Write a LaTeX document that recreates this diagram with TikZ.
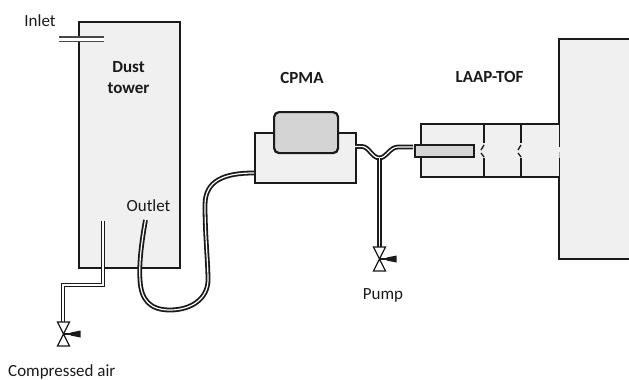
\documentclass[tikz,border=0pt]{standalone}
\usepackage{fontspec}
\setmainfont{Carlito}
\definecolor{boxfill}{HTML}{F0F0F0}
\definecolor{darkfill}{HTML}{D4D4D4}
\definecolor{ink}{HTML}{1A1A1A}
\tikzset{
  every node/.style={text=ink,font=\fontsize{17}{19}\selectfont,inner sep=0pt},
  boxstyle/.style={draw=ink,line width=2.2pt,fill=boxfill},
  pipe/.style={draw=ink,line width=1.8pt,line cap=butt,double=white,double distance=1.2pt,line join=round},
  valvestyle/.style={draw=ink,line width=1.3pt,fill=white,line join=miter},
  strong/.style={font=\fontsize{17}{19}\selectfont\bfseries},
}
\newcommand{\valve}[1]{%
  \draw[valvestyle] (#1)++(-6,-12) -- ++(12,0) -- ++(-12,24) -- ++(12,0) -- cycle;
  \draw[ink,line width=1.3pt] (#1) -- ++(8,0);
  \fill[ink] (#1)++(7,-1.5) -- ++(10,-2) -- ++(0,7) -- ++(-10,-2) -- cycle;
}
\begin{document}
\begin{tikzpicture}[x=1pt,y=-1pt]
\useasboundingbox (0,0) rectangle (629,380);
% tower
\node[boxstyle,minimum width=101pt,minimum height=246pt,anchor=north west] (tower) at (78,21) {};
% large instrument
\fill[boxfill] (559,39) rectangle (629,259);
\draw[ink,line width=2.2pt] (629,39) -- (559,39) -- (559,147);
\draw[gray!60,line width=2pt] (559,152) -- (559,158);
\draw[ink,line width=2.2pt] (559,158) -- (559,259) -- (629,259);
% LAAP
\fill[boxfill] (421,124) rectangle (559,177);
\draw[ink,line width=2.2pt] (559,124) -- (421,124) -- (421,177) -- (559,177);
\foreach \x in {484,521}{
  \draw[ink,line width=2.2pt] (\x,124) -- (\x,143);
  \draw[ink,line width=2.2pt] (\x,158) -- (\x,177);
  \draw[ink,line width=1.3pt] (\x,145) -- (\x-3,150);
  \draw[ink,line width=1.3pt] (\x-3,153) -- (\x,157);
}
% CPMA
\node[boxstyle,minimum width=101pt,minimum height=50pt,anchor=north west] (cpma) at (254,132) {};
\node[draw=ink,line width=2.2pt,fill=darkfill,rounded corners=5pt,minimum width=64pt,minimum height=41pt,anchor=north west] (rot) at (273,111) {};
% pipes
\coordinate (inA) at (59,39); \coordinate (inB) at (104,39);
\draw[draw=ink!80,line width=1.4pt,double=white,double distance=3pt] (inA) -- (inB);
\coordinate (airtop) at (103,221);
\coordinate (airv) at (63,322);
\draw[pipe,line join=miter] (airtop) -- (103,285) -- (63,285) -- (63,322);
\coordinate (outtop) at (145.5,220);
\coordinate (cpmaL) at (254,173);
\draw[pipe] (outtop) .. controls (141,245) and (139,265) .. (140,280)
  .. controls (141,300) and (150,310) .. (170,310)
  .. controls (192,310) and (208,298) .. (208,280)
  .. controls (208,262) and (205,235) .. (205,205)
  .. controls (205,180) and (225,173) .. (cpmaL);
\coordinate (cpmaR) at (355,146.5);
\coordinate (ytee) at (379.5,158);
\coordinate (probeL) at (413,147);
\coordinate (pumpv) at (379.5,247);
\draw[pipe] (cpmaR) -- (362,146.5) .. controls (369,146.5) and (372,158) .. (ytee);
\draw[pipe] (probeL) -- (398,147) .. controls (390,147) and (386,158) .. (ytee);
\draw[pipe] (ytee) -- (pumpv);
% probe
\node[draw=ink,line width=2pt,fill=darkfill,minimum width=59pt,minimum height=12pt,anchor=north west] (probe) at (413.5,144) {};
% valves
\valve{63.5,334}
\valve{379.5,259}
% labels
\node (inlet) at (40,21) {Inlet};
\node[strong] (dust) at (128.5,67) {Dust};
\node[strong] (tw) at (128.5,88) {tower};
\node (outlet) at (148.5,206) {Outlet};
\node[anchor=base west] (air) at (8,376) {Compressed air};
\node[strong] (cpmal) at (302,78) {CPMA};
\node[strong] (laap) at (489.5,77) {LAAP-TOF};
\node (pump) at (383,295) {Pump};
\end{tikzpicture}
\end{document}
